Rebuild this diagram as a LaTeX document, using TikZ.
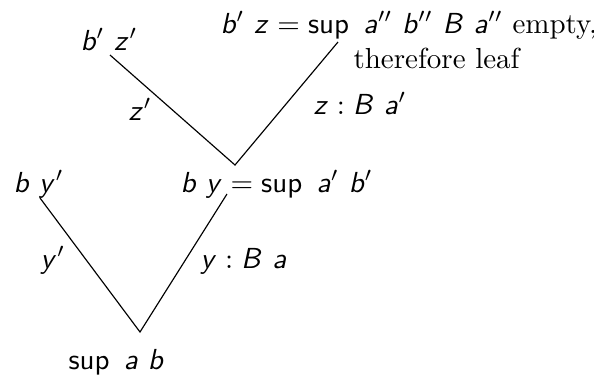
\documentclass[tikz,border=0pt]{standalone}
\DeclareMathAlphabet{\mathsfit}{OT1}{cmss}{m}{sl}
\DeclareMathAlphabet{\mathsfup}{OT1}{cmss}{m}{n}
\newcommand\sv[1]{\mathsfit{#1}}
\newcommand\ssup{\mathop{\mathsfup{sup}}}
\begin{document}
\begin{tikzpicture}[x=0.345pt,y=-0.345pt,
  lbl/.style={inner sep=0pt,anchor=base west},
  edge/.style={line width=0.4pt}]
\useasboundingbox (0,0) rectangle (594,376);
% nodes
\node[lbl] (root) at (68,369) {$\ssup\ \sv{a}\ \sv{b}$};
\node[lbl] (lby) at (13,192) {$\sv{b}\ \sv{y}'$};
\node[lbl] (mid) at (180,192) {$\sv{b}\ \sv{y} = \ssup\ \sv{a}'\ \sv{b}'$};
\node[lbl] (lbz) at (80,50) {$\sv{b}'\ \sv{z}'$};
\node[lbl] (top) at (220,33) {$\sv{b}'\ \sv{z} = \ssup\ \sv{a}''\ \sv{b}''\ \sv{B}\ \sv{a}''$ empty,};
\node[lbl] (top2) at (353,68) {therefore leaf};
% connector ends
\coordinate (r) at (140,332);
\coordinate (e1) at (40,198);
\coordinate (e2) at (227,194);
\coordinate (m) at (235,165);
\coordinate (e3) at (110,55);
\coordinate (e4) at (338,42);
\draw[edge] (e1) -- (r) -- (e2);
\draw[edge] (e3) -- (m) -- (e4);
% edge labels
\node[lbl] (ly1) at (40,268) {$\sv{y}'$};
\node[lbl] (ly2) at (200,268) {$\sv{y} : \sv{B}\ \sv{a}$};
\node[lbl] (lz1) at (128,120) {$\sv{z}'$};
\node[lbl] (lz2) at (313,114) {$\sv{z} : \sv{B}\ \sv{a}'$};
\end{tikzpicture}
\end{document}
